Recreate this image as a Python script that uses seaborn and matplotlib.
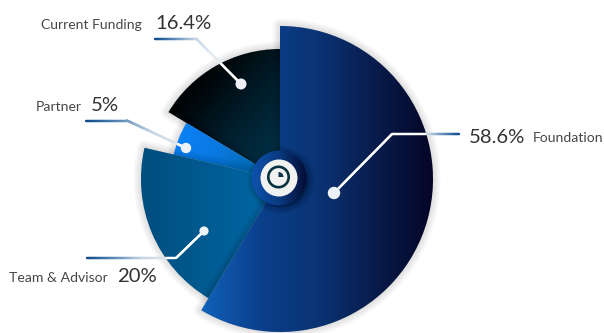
import numpy as np
import seaborn as sns
import matplotlib
matplotlib.use("Agg")
import matplotlib.pyplot as plt
from matplotlib.patches import Wedge, Circle
from matplotlib.collections import LineCollection
from matplotlib.colors import LinearSegmentedColormap

# Allocation of funds, clockwise from twelve o'clock
categories = ["Foundation", "Team & Advisor", "Partner", "Current Funding"]
shares = [58.6, 20, 5, 16.4]

sns.set_theme(style="white")
plt.rcParams["font.family"] = ["Lato", "DejaVu Sans"]

W, H = 604, 333
fig = plt.figure(figsize=(W / 100, H / 100), dpi=100)
ax = fig.add_axes([0, 0, 1, 1])
ax.set_xlim(0, W)
ax.set_ylim(H, 0)
ax.axis("off")

cx, cy = 280, 179
radii = {"Foundation": 153, "Team & Advisor": 139, "Partner": 109, "Current Funding": 130}
ramps = {
    "Foundation": (["#1062bb", "#0b408c", "#0a3474", "#081c4c", "#050626"], (200, 0), (434, 0)),
    "Team & Advisor": (["#004e7e", "#005a90", "#0066a2"], (142, 0), (262, 0)),
    "Partner": (["#0a82f8", "#0a78e0", "#0068a8"], (172, 145), (260, 172)),
    "Current Funding": (["#000000", "#001f2d", "#00364e"], (180, 90), (280, 178)),
}


def fill_ramp(artist, colors, p0, p1, bbox):
    """Paint a linear colour ramp from p0 to p1, clipped to the given patch."""
    x0, x1, y0, y1 = bbox
    xs, ys = np.meshgrid(np.linspace(x0, x1, 300), np.linspace(y0, y1, 300))
    d = np.array(p1, float) - np.array(p0, float)
    t = ((xs - p0[0]) * d[0] + (ys - p0[1]) * d[1]) / (d @ d)
    cmap = LinearSegmentedColormap.from_list("ramp", sns.blend_palette(colors, 64))
    im = ax.imshow(np.clip(t, 0, 1), cmap=cmap, vmin=0, vmax=1, extent=(x0, x1, y1, y0),
                   interpolation="bilinear", aspect="auto", zorder=artist.get_zorder())
    im.set_clip_path(artist)


def soft_shadow(make_patch, z, steps=8, reach=8, strength=0.014):
    """Stack widening translucent outlines to imitate a drop shadow."""
    for k in range(steps, 0, -1):
        p = make_patch()
        p.set(facecolor="black", edgecolor="black", linewidth=k * reach / steps * 1.4,
              alpha=strength, joinstyle="round", zorder=z)
        ax.add_patch(p)


# Wedge angles come from the shares; the y axis points down, so angles run clockwise
edges = -90 + np.cumsum([0] + shares) * 3.6
spans = {c: (edges[i], edges[i + 1]) for i, c in enumerate(categories)}

draw_order = ["Current Funding", "Partner", "Team & Advisor", "Foundation"]
for n, name in enumerate(draw_order):
    t1, t2 = spans[name]
    r = radii[name]
    z = 2 + n * 2
    soft_shadow(lambda: Wedge((cx, cy), r, t1, t2), z)
    w = Wedge((cx, cy), r, t1, t2, facecolor="none", edgecolor="none", zorder=z + 1)
    ax.add_patch(w)
    colors, p0, p1 = ramps[name]
    fill_ramp(w, colors, p0, p1, (cx - r - 2, cx + r + 2, cy - r - 2, cy + r + 2))

# Central hub with its clock glyph
hx, hy = 279, 178
soft_shadow(lambda: Circle((hx + 2, hy + 2), 27), 12, steps=6, reach=7, strength=0.04)
hub = Circle((hx, hy), 27.5, facecolor="none", edgecolor="none", zorder=13)
ax.add_patch(hub)
fill_ramp(hub, ["#0d52ae", "#0a3a80", "#040e38"], (hx - 27, 0), (hx + 27, 0),
          (hx - 29, hx + 29, hy - 29, hy + 29))
ax.add_patch(Circle((hx, hy), 18.5, facecolor="#f1f1f1", edgecolor="none", zorder=14))
ax.add_patch(Circle((hx - 0.5, hy - 1), 10.2, facecolor="none", edgecolor="#06313f", linewidth=1.9, zorder=15))
ax.add_patch(Wedge((hx - 0.5, hy - 1), 5, -90, 0, facecolor="#06334a", edgecolor="none", zorder=15))

# Leader lines: anchor on the outer end, elbow, then the dot on the slice,
# with the length over which the stroke fades from blue to pale
leaders = {
    "Foundation": ((459, 134), (392, 134), (334, 193), 6.2, 48),
    "Team & Advisor": ((87, 258), (176, 258), (204, 231), 4.6, 85),
    "Partner": ((86, 120.5), (127, 120.5), (186, 148), 5.2, 105),
    "Current Funding": ((155, 38.5), (196, 38.5), (241, 84), 5.5, 62),
}
lead_cmap = LinearSegmentedColormap.from_list(
    "lead", sns.blend_palette(["#0d4a8c", "#5f8db8", "#c9d8e6", "#e4ebf2"], 64))
for name, (a, b, c, dot, fade) in leaders.items():
    pts = np.array([a, b, c], float)
    seg_len = np.r_[0, np.cumsum(np.hypot(*np.diff(pts, axis=0).T))]
    t = np.linspace(0, seg_len[-1], 160)
    path = np.c_[np.interp(t, seg_len, pts[:, 0]), np.interp(t, seg_len, pts[:, 1])]
    segs = np.stack([path[:-1], path[1:]], axis=1)
    colors = lead_cmap(np.clip(t[:-1] / fade, 0, 1))
    # The stroke turns fully white where it crosses a slice
    inside = np.hypot(path[:-1, 0] - cx, path[:-1, 1] - cy) < radii[name] - 1
    colors[inside] = (1, 1, 1, 1)
    lc = LineCollection(segs, colors=colors, linewidths=1.7, capstyle="round", zorder=16)
    ax.add_collection(lc)
    ax.add_patch(Circle(c, dot, facecolor="#eef2f6", edgecolor="none", zorder=17))


# Captions: share in large type, category name in small type
def pct(name):
    return f"{shares[categories.index(name)]:g}%"


label_style = dict(fontsize=10.1, color="#44474a", va="baseline", zorder=18)
value_style = dict(fontsize=14.6, color="#303336", va="baseline", zorder=18)

ax.text(142, 29, "Current Funding", ha="right", **label_style)
ax.text(155, 29, pct("Current Funding"), ha="left", **value_style)
ax.text(82, 111, "Partner", ha="right", **label_style)
ax.text(91, 111, pct("Partner"), ha="left", **value_style)
ax.text(108, 282, "Team & Advisor", ha="right", **label_style)
ax.text(117, 282, pct("Team & Advisor"), ha="left", **value_style)
ax.text(469, 143, pct("Foundation"), ha="left", **value_style)
ax.text(533, 142, "Foundation", ha="left", **label_style)

fig.savefig("out.png", dpi=100)
